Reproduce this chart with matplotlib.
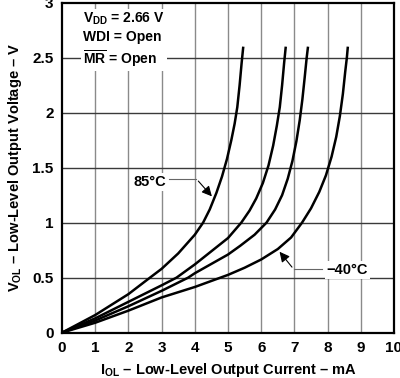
import matplotlib
matplotlib.use("Agg")
from matplotlib import pyplot as plt

plt.rcParams['font.family'] = ['Liberation Sans', 'DejaVu Sans']
plt.rcParams['font.weight'] = 'bold'
plt.rcParams['mathtext.fontset'] = 'custom'
plt.rcParams['mathtext.rm'] = 'Liberation Sans:bold'
plt.rcParams['mathtext.default'] = 'rm'

# I_OL (mA) vs V_OL (V)
i_85 = [0, 1, 2, 2.65, 3, 3.5, 4, 4.25, 4.45, 4.65, 4.82, 4.97, 5.1, 5.2, 5.28, 5.35, 5.41, 5.46]
v_85 = [0, 0.16, 0.35, 0.5, 0.58, 0.72, 0.89, 1.0, 1.12, 1.27, 1.42, 1.58, 1.75, 1.9, 2.05, 2.25, 2.45, 2.6]

i_c2 = [0, 1, 2, 3, 3.45, 4, 4.5, 5, 5.4, 5.65, 5.85, 6.05, 6.22, 6.36, 6.47, 6.56, 6.63, 6.69, 6.74]
v_c2 = [0, 0.13, 0.28, 0.43, 0.5, 0.62, 0.74, 0.86, 1.0, 1.11, 1.22, 1.36, 1.52, 1.7, 1.88, 2.05, 2.25, 2.45, 2.6]

i_c3 = [0, 1, 2, 3, 3.8, 4, 5, 5.37, 5.8, 6.16, 6.42, 6.63, 6.8, 6.94, 7.06, 7.16, 7.24, 7.31, 7.37, 7.41]
v_c3 = [0, 0.11, 0.24, 0.38, 0.5, 0.54, 0.71, 0.79, 0.89, 1.0, 1.12, 1.25, 1.4, 1.56, 1.74, 1.93, 2.12, 2.32, 2.5, 2.6]

i_m40 = [0, 1, 2, 3, 4, 5, 5.5, 6, 6.5, 6.9, 7.23, 7.5, 7.75, 7.95, 8.12, 8.26, 8.37, 8.46, 8.53, 8.58, 8.61]
v_m40 = [0, 0.09, 0.2, 0.32, 0.415, 0.525, 0.59, 0.665, 0.76, 0.865, 1.0, 1.13, 1.28, 1.43, 1.6, 1.78, 1.97, 2.17, 2.37, 2.5, 2.6]

x_ticks = list(range(0, 11))
y_ticks = [0, 0.5, 1, 1.5, 2, 2.5, 3]
y_labels = ['0', '0.5', '1', '1.5', '2', '2.5', '3']

fig = plt.figure(figsize=(4.0, 3.78), dpi=100)
ax = fig.add_axes([0.155, 0.12, 0.83, 0.873])

for x in x_ticks[1:-1]:
    ax.axvline(x, color='#8a8a8a', lw=1.0, zorder=1)
for y in y_ticks[1:-1]:
    ax.axhline(y, color='#3a3a3a', lw=1.0, zorder=1)

for xs, ys in [(i_85, v_85), (i_c2, v_c2), (i_c3, v_c3), (i_m40, v_m40)]:
    ax.plot(xs, ys, color='black', lw=1.8, zorder=3, solid_capstyle='butt', solid_joinstyle='round')

ax.set_xlim(0, 10)
ax.set_ylim(0, 3)
ax.set_xticks(x_ticks)
ax.set_yticks(y_ticks)
ax.set_yticklabels(y_labels)
ax.tick_params(length=0, labelsize=11, pad=6)
for s in ax.spines.values():
    s.set_linewidth(1.6)

ax.set_xlabel('$I_{OL}$ – Low-Level Output Current – mA', fontsize=10.5, fontweight='bold', labelpad=4)
ax.set_ylabel('$V_{OL}$ – Low-Level Output Voltage – V', fontsize=10.5, fontweight='bold', labelpad=6)

box = dict(facecolor='white', edgecolor='none', pad=1.5)

# condition text block
ax.text(0.64, 2.93, '$V_{DD}$ = 2.66 V\nWDI = Open\n$\\overline{MR}$ = Open', fontsize=10,
        fontweight='bold', va='top', ha='left', linespacing=1.3, bbox=box, zorder=4)

# 85°C label with leader
ax.text(2.64, 1.37, '85°C', fontsize=10.5, fontweight='bold', ha='center', va='center', bbox=box, zorder=4)
ax.plot([3.22, 4.05], [1.397, 1.397], color='#666666', lw=0.8, zorder=4)
ax.annotate('', xy=(4.57, 1.22), xytext=(4.05, 1.397),
            arrowprops=dict(arrowstyle='-|>', color='black', lw=0.8, mutation_scale=15), zorder=4)

# -40°C label with leader
ax.text(8.6, 0.57, '−40°C', fontsize=10.5, fontweight='bold', ha='center', va='center', bbox=box, zorder=4)
ax.plot([6.98, 7.83], [0.576, 0.576], color='#666666', lw=0.8, zorder=4)
ax.annotate('', xy=(6.5, 0.755), xytext=(6.98, 0.576),
            arrowprops=dict(arrowstyle='-|>', color='black', lw=0.8, mutation_scale=15), zorder=4)

fig.savefig('out.png', dpi=100)
